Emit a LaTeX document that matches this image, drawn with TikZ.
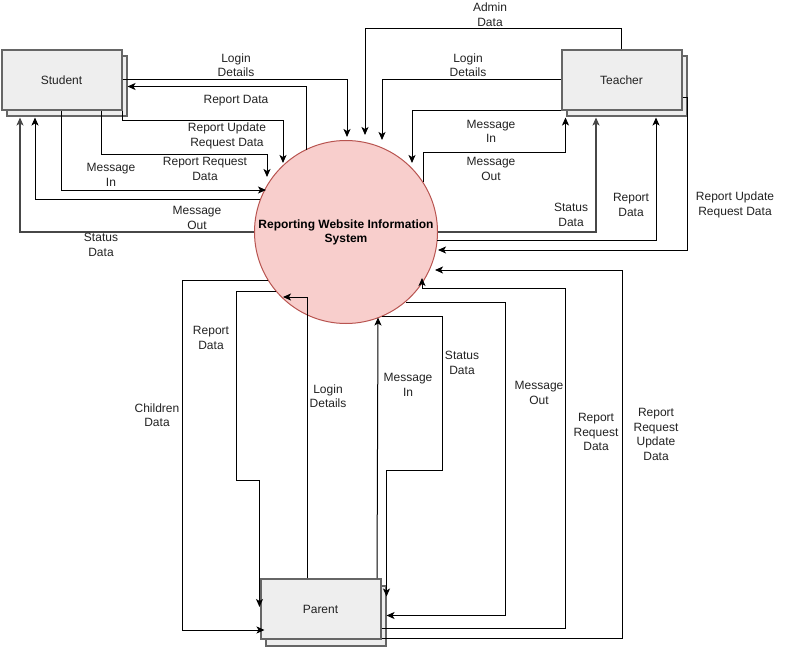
\documentclass[tikz,border=0pt]{standalone}
\usepackage{fontspec}
\setmainfont{Liberation Sans}
\usetikzlibrary{calc,arrows.meta}
\definecolor{boxfill}{HTML}{EEEEEE}
\definecolor{boxgray}{HTML}{666666}
\definecolor{circfill}{HTML}{F8CECC}
\definecolor{circstroke}{HTML}{B85450}
\definecolor{labelc}{HTML}{222222}
\tikzset{
  box/.style={draw=boxgray, fill=boxfill, line width=2pt, minimum width=120pt, minimum height=60pt, inner sep=0pt, font=\fontsize{12}{14.5}\selectfont, text=labelc},
  flow/.style={draw=black, line width=1pt, -{Stealth[length=8pt,width=7pt,inset=2pt]}},
  grayflow/.style={flow, draw=black!72, line width=1.4pt},
  lbl/.style={align=center, font=\fontsize{12}{14.5}\selectfont, inner sep=0pt, text=labelc},
}
\begin{document}
\begin{tikzpicture}[x=1pt,y=-1pt]
\useasboundingbox (0,0) rectangle (786,647);
% boxes (back, then front)
\node[box] (studentb) at (66.5,86.5) {};
\node[box] (student) at (61.5,80) {Student};
\node[box] (teacherb) at (626.5,86.5) {};
\node[box] (teacher) at (621.5,80) {Teacher};
\node[box] (parentb) at (325.5,615.5) {};
\node[box] (parent) at (320.5,609) {Parent};
% process
\node[circle, draw=circstroke, fill=circfill, line width=1pt, minimum size=183pt, inner sep=0pt, align=center, font=\bfseries\fontsize{12}{14}\selectfont] (sys) at (346,232) {Reporting Website Information\\System};

% ---- Student flows
\draw[flow] (student.east) -| ($(sys.center)+(1,-95)$);
\draw[flow] ($(sys.center)+(-40,-82)$) |- (studentb.east);
\draw[flow] (student.south east) -- ++(0,10) -| ($(sys.center)+(-63,-69)$);
\draw[flow] ($(student.south west)+(100.5,0)$) -- ++(0,44) -| ($(sys.center)+(-79,-55)$);
\draw[flow] ($(student.south west)+(60.5,0)$) |- ($(sys.center)+(-80,-42)$);
\draw[flow] ($(sys.center)+(-86,-33)$) -| ($(studentb.south west)+(29.5,0)$);
\draw[grayflow] (sys.west) -| ($(studentb.south west)+(14.5,0)$);

% ---- Teacher flows
\draw[flow] (teacher.north) -- ++(0,-20) -| ($(sys.center)+(19,-97)$);
\draw[flow] (teacher.west) -| ($(sys.center)+(36,-92)$);
\draw[flow] (teacher.south west) -| ($(sys.center)+(66,-69)$);
\draw[flow] ($(sys.center)+(77,-50)$) -- ++(0,-29) -| (teacherb.south west);
\draw[grayflow] (sys.east) -| ($(teacherb.south west)+(30.5,0)$);
\draw[flow] ($(sys.center)+(91,8)$) -| ($(teacherb.south west)+(90.5,0)$);
\draw[flow] ($(teacher.east)+(0,18)$) -- ++(5,0) |- ($(sys.center)+(92,18)$);

% ---- Parent flows
\draw[flow] ($(sys.center)+(-78,48)$) -- ($(sys.center)+(-164,48)$) |- ($(parentb.west)+(0,14.5)$);
\draw[flow] ($(sys.center)+(-70,59)$) -- ++(-40,0) -- ++(0,189) -| ($(parent.west)+(0,-2)$);
\draw[flow] ($(parent.north west)+(47.5,0)$) |- ($(sys.center)+(-63,65)$);
\draw[flow] ($(parent.north west)+(117.5,0)$) -- ($(sys.center)+(32,85.5)$);
\draw[flow] ($(sys.center)+(36,84)$) -- ++(60,0) -- ++(0,154) -| ($(parentb.north east)+(0,12)$);
\draw[flow] ($(sys.center)+(60,70)$) -- ++(99,0) |- (parentb.east);
\draw[flow] ($(parent.east)+(0,19)$) -- ++(183.5,0) -- ++(0,-340) -| ($(sys.center)+(76,46)$);
\draw[flow] ($(parent.east)+(0,29)$) -- ++(240.5,0) |- ($(sys.center)+(89,38)$);

% ---- labels
\node[lbl] (l1) at (236,65) {Login\\Details};
\node[lbl] (l2) at (236,100.5) {Report Data};
\node[lbl] (l3) at (227,136) {Report Update\\Request Data};
\node[lbl] (l4) at (205,169) {Report Request\\Data};
\node[lbl] (l5) at (111,175) {Message\\In};
\node[lbl] (l6) at (197,218) {Message\\Out};
\node[lbl] (l7) at (101,245) {Status\\Data};
\node[lbl] (l8) at (490,14.5) {Admin\\Data};
\node[lbl] (l9) at (468,65) {Login\\Details};
\node[lbl] (l10) at (491,131.5) {Message\\In};
\node[lbl] (l11) at (491,169) {Message\\Out};
\node[lbl] (l12) at (571,215) {Status\\Data};
\node[lbl] (l13) at (631,205) {Report\\Data};
\node[lbl] (l14) at (735,205) {Report Update\\Request Data};
\node[lbl] (l15) at (211,338) {Report\\Data};
\node[lbl] (l16) at (157,415) {Children\\Data};
\node[lbl] (l17) at (328,396) {Login\\Details};
\node[lbl] (l18) at (408,385) {Message\\In};
\node[lbl] (l19) at (462,363) {Status\\Data};
\node[lbl] (l20) at (539,393) {Message\\Out};
\node[lbl] (l21) at (596,432) {Report\\Request\\Data};
\node[lbl] (l22) at (656,434.5) {Report\\Request\\Update\\Data};
\end{tikzpicture}
\end{document}
